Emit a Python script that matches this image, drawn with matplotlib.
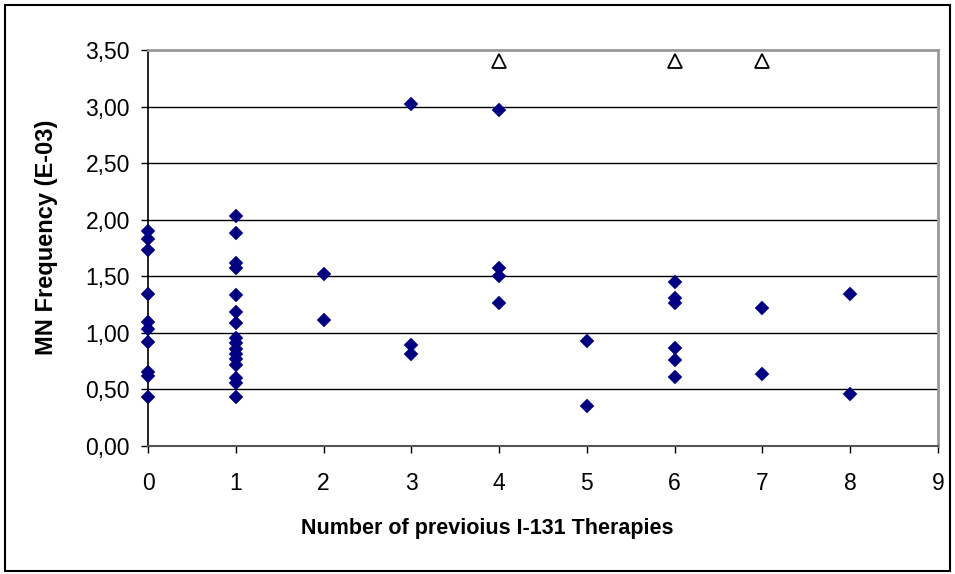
"""
Nuage de points : fréquence MN en fonction du nombre de thérapies I-131.
"""
import matplotlib.pyplot as plt
from matplotlib.patches import Rectangle
from matplotlib.ticker import FuncFormatter

plt.rcParams['font.family'] = ['Liberation Sans', 'DejaVu Sans']

# Données
therapies_0 = [1.90, 1.83, 1.73, 1.34, 1.10, 1.03, 0.92, 0.65, 0.62, 0.43]
therapies_1 = [2.03, 1.88, 1.62, 1.57, 1.33, 1.18, 1.09, 0.95, 0.91, 0.86,
               0.81, 0.77, 0.72, 0.60, 0.56, 0.43]
therapies_2 = [1.52, 1.11]
therapies_3 = [3.02, 0.89, 0.81]
therapies_4 = [2.97, 1.57, 1.50, 1.26]
therapies_5 = [0.93, 0.35]
therapies_6 = [1.45, 1.31, 1.26, 0.87, 0.76, 0.61]
therapies_7 = [1.22, 0.64]
therapies_8 = [1.34, 0.46]

groups = [therapies_0, therapies_1, therapies_2, therapies_3, therapies_4,
          therapies_5, therapies_6, therapies_7, therapies_8]

# Valeurs hors échelle (triangles)
offscale_x = [4, 6, 7]
offscale_y = [3.40, 3.40, 3.40]

fig = plt.figure(figsize=(9.55, 5.74), dpi=100)
ax = fig.add_axes([0.155, 0.223, 0.827, 0.690])

# Lignes de grille horizontales
for yv in [0.5, 1.0, 1.5, 2.0, 2.5, 3.0]:
    ax.axhline(yv, color='black', lw=1.0, zorder=1)

for n, values in enumerate(groups):
    ax.plot([n] * len(values), values, linestyle='none', marker='D',
            ms=6.8, mfc='#000080', mec='#000080', mew=0.3,
            clip_on=False, zorder=3)

ax.plot(offscale_x, offscale_y, linestyle='none', marker='^', ms=9.5,
        mfc='white', mec='black', mew=1.3, clip_on=False, zorder=3)

ax.set_xlim(0, 9)
ax.set_ylim(0, 3.5)
ax.set_xticks(range(10))
ax.set_yticks([0.5 * i for i in range(8)])
ax.yaxis.set_major_formatter(
    FuncFormatter(lambda v, pos: f"{v:.2f}".replace('.', ',')))

ax.tick_params(axis='both', direction='out', length=5, width=1,
               labelsize=16.5, colors='black')
ax.tick_params(axis='x', pad=14)
ax.tick_params(axis='y', pad=8)

for side in ['top', 'right']:
    ax.spines[side].set_color('#999999')
    ax.spines[side].set_linewidth(2)
ax.spines['left'].set_color('black')
ax.spines['left'].set_linewidth(1.2)
ax.spines['bottom'].set_color('#555555')
ax.spines['bottom'].set_linewidth(1.5)

ax.set_xlabel("Number of previoius I-131 Therapies", fontsize=15.5,
              fontweight='bold')
ax.set_ylabel("MN Frequency (E-03)", fontsize=17, fontweight='bold')
ax.xaxis.set_label_coords(0.430, -0.182)
ax.yaxis.set_label_coords(-0.114, 0.528)

# Cadre extérieur
fig.patches.append(Rectangle((0.005, 0.006), 0.99, 0.986,
                             transform=fig.transFigure, fill=False,
                             edgecolor='black', linewidth=1.5))

fig.savefig("out.png", dpi=100)
